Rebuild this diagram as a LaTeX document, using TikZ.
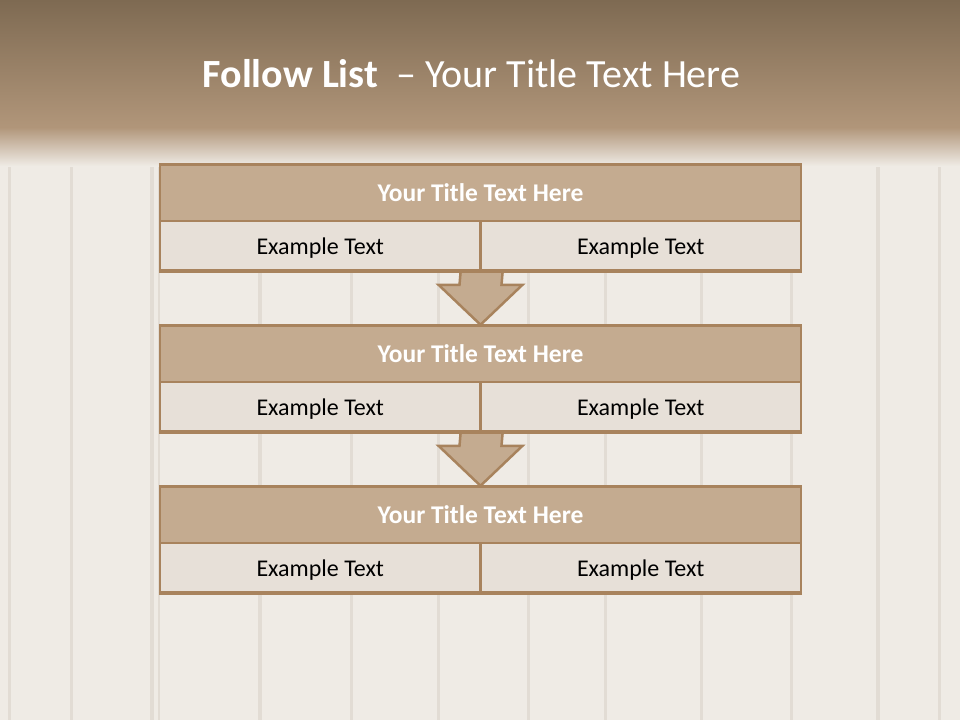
\documentclass[tikz,border=0pt]{standalone}
\usepackage{fontspec}
\setmainfont{Carlito}
\usetikzlibrary{calc}
\definecolor{hdrtop}{HTML}{7E6A52}
\definecolor{hdrbot}{HTML}{B1967A}
\definecolor{wood}{HTML}{EFEBE5}
\definecolor{plank}{HTML}{E2DCD4}
\definecolor{titlefill}{HTML}{C4AB90}
\definecolor{cellfill}{HTML}{E7E0D8}
\definecolor{edge}{HTML}{A8835D}
\tikzset{
  boxline/.style={draw=edge, line width=2.5pt},
  titlebox/.style={boxline, fill=titlefill, minimum width=641pt, minimum height=56pt, inner sep=0pt, text=white, font=\fontsize{25.5}{30}\selectfont\bfseries},
  cellbox/.style={boxline, fill=cellfill, minimum width=320.5pt, minimum height=49pt, inner sep=0pt, text=black, font=\fontsize{24}{28}\selectfont},
  downarrow/.style={draw=edge, line width=2.5pt, fill=titlefill, line join=miter},
  headtext/.style={text=white, font=\fontsize{40}{48}\selectfont, inner sep=0pt}
}
\begin{document}
\begin{tikzpicture}[x=1pt,y=-1pt]
\useasboundingbox (0,0) rectangle (960,720);
% wooden background
\fill[wood] (0,0) rectangle (960,720);
\foreach \px/\pw in {8/3,70/3,150/4,158/2,258/4,350/3,437/3,527/3,604/3,700/3,790/3,876/4,938/3}
  \fill[plank] (\px,120) rectangle ++(\pw,600);
% header band
\shade[top color=hdrtop, bottom color=hdrbot] (0,0) rectangle (960,128);
\shade[top color=hdrbot, bottom color=wood] (0,127.5) rectangle (960,166);
\node[headtext, anchor=base] (hdr) at (471.5,87) {\textbf{Follow List}\ \ – Your Title Text Here};
% boxes
\foreach \k/\top in {1/165,2/326,3/487}{
  \node[titlebox] (t\k) at (480.5,\top+28) {Your Title Text Here};
  \node[cellbox, text depth=0pt, text height=17pt] (l\k) at (320.25,\top+56+24.5) {Example Text};
  \node[cellbox, text depth=0pt, text height=17pt] (r\k) at (640.75,\top+56+24.5) {Example Text};
}
% arrows
\foreach \a/\b in {1/2,2/3}{
  \draw[downarrow]
    ($(l\a.south east)+(-21,-1)$) -- ($(t\b.north)+(-21,-40)$) -- ($(t\b.north)+(-42,-40)$)
    -- (t\b.north) -- ($(t\b.north)+(42,-40)$) -- ($(t\b.north)+(21,-40)$)
    -- ($(l\a.south east)+(21,-1)$);
}
% redraw borders on top
\foreach \k in {1,2,3}{
  \draw[boxline] (l\k.south west) -- (r\k.south east);
  \draw[boxline] (t\k.north west) -- (t\k.north east);
}
\end{tikzpicture}
\end{document}
